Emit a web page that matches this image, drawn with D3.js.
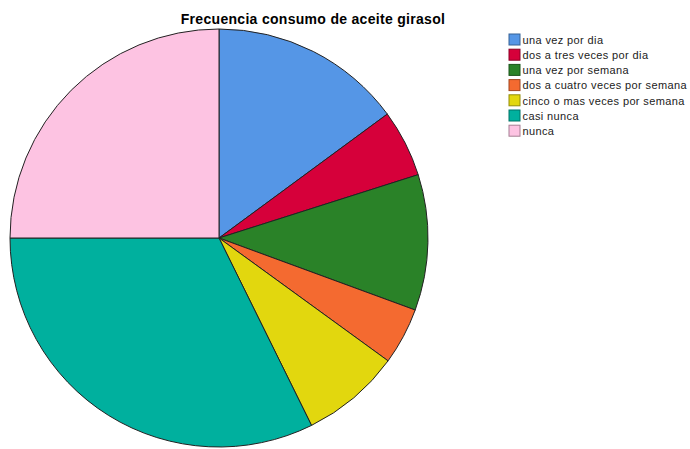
<!DOCTYPE html>
<html>
<head>
<meta charset="utf-8">
<script src="https://cdn.jsdelivr.net/npm/d3@7"></script>
<style>
  html, body { margin: 0; padding: 0; background: #fff; }
  svg { display: block; font-family: "Liberation Sans", Arial, sans-serif; }
</style>
</head>
<body>
<svg id="chart" width="690" height="449"></svg>
<script>
const title = "Frecuencia consumo de aceite girasol";
const categories = [
  "una vez por dia",
  "dos a tres veces por dia",
  "una vez por semana",
  "dos a cuatro veces por semana",
  "cinco o mas veces por semana",
  "casi nunca",
  "nunca"
];
const percentages = [14.9, 5.2, 10.5, 4.4, 7.7, 32.3, 25.0];
const colors = ["#5596e6", "#d6003a", "#2a8228", "#f46a30", "#e2d70e", "#00b09e", "#fdc3e2"];

const width = 690;
const height = 449;
const center = { x: 219, y: 238 };
const radius = 209;

const svg = d3.select("#chart");

const data = categories.map((name, i) => ({ name, value: percentages[i], color: colors[i] }));

const pie = d3.pie().sort(null).value((d) => d.value);
const arc = d3.arc().innerRadius(0).outerRadius(radius);

svg
  .append("g")
  .attr("transform", `translate(${center.x},${center.y})`)
  .selectAll("path")
  .data(pie(data))
  .join("path")
  .attr("d", arc)
  .attr("fill", (d) => d.data.color)
  .attr("stroke", "#222")
  .attr("stroke-width", 1);

svg
  .append("text")
  .attr("x", 313)
  .attr("y", 24)
  .attr("text-anchor", "middle")
  .attr("font-size", 14)
  .attr("font-weight", "bold")
  .attr("letter-spacing", 0.3)
  .attr("fill", "#000")
  .text(title);

const legend = svg
  .append("g")
  .selectAll("g")
  .data(data)
  .join("g")
  .attr("transform", (d, i) => `translate(509,${34 + i * 15.2})`);

legend
  .append("rect")
  .attr("width", 11)
  .attr("height", 11)
  .attr("fill", (d) => d.color)
  .attr("stroke", (d) => d3.color(d.color).darker(1.2))
  .attr("stroke-width", 1);

legend
  .append("text")
  .attr("x", 13.5)
  .attr("y", 9.8)
  .attr("font-size", 11)
  .attr("letter-spacing", 0.38)
  .attr("fill", "#222")
  .text((d) => d.name);
</script>
</body>
</html>
